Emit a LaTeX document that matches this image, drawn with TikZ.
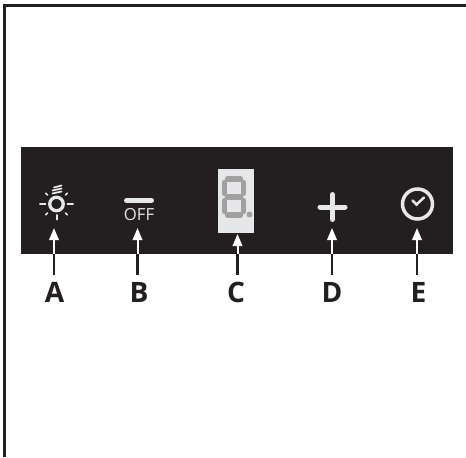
\documentclass[tikz,border=0pt]{standalone}
\usepackage{fontspec}
\setmainfont{Open Sans}
\usetikzlibrary{arrows.meta,positioning,calc}
\definecolor{panel}{RGB}{35,31,32}
\definecolor{glyph}{RGB}{230,231,232}
\definecolor{segment}{RGB}{160,160,160}
\tikzset{
  callout/.style={draw=white, line width=0.04cm, -{Triangle[length=0.24cm,width=0.19cm,fill=white]}},
  stem/.style={draw=panel, line width=0.05cm},
  letter/.style={font=\fontsize{16}{16}\selectfont\bfseries, text=panel, inner sep=0pt, anchor=base},
  icon/.style={draw=glyph, line width=0.05cm, line cap=round},
  seg/.style={draw=segment, line width=0.105cm, line cap=round},
}
\begin{document}
\begin{tikzpicture}
\useasboundingbox (0,0) rectangle (9.32,9.14);
\fill[white] (0,0) rectangle (9.32,9.14);
% frame, left and top only
\draw[panel, line width=0.06cm] (0.09,0) -- (0.09,9.03) -- (9.32,9.03);

\fill[panel] (0.42,4.06) rectangle (9.05,6.2);

% display window
\fill[glyph] (4.35,4.49) rectangle (5.08,5.77);
\draw[seg] (4.55,5.56) -- (4.81,5.56);
\draw[seg] (4.55,5.2) -- (4.81,5.2);
\draw[seg] (4.55,4.84) -- (4.81,4.84);
\draw[seg] (4.49,5.49) -- (4.49,5.27);
\draw[seg] (4.87,5.49) -- (4.87,5.27);
\draw[seg] (4.49,5.13) -- (4.49,4.91);
\draw[seg] (4.87,5.13) -- (4.87,4.91);
\fill[segment] (4.99,4.85) circle (0.06);

% lamp
\coordinate (lamp) at (1.13,5.06);
\draw[icon, line width=0.065cm] (lamp) circle (0.135);
\draw[icon, line width=0.04cm] ($(lamp)+(0:0.22)$) -- ($(lamp)+(0:0.33)$);
\draw[icon, line width=0.04cm] ($(lamp)+(180:0.22)$) -- ($(lamp)+(180:0.33)$);
\draw[icon, line width=0.04cm] ($(lamp)+(270:0.22)$) -- ($(lamp)+(270:0.31)$);
\draw[icon, line width=0.03cm] ($(lamp)+(45:0.25)$) -- ($(lamp)+(45:0.31)$);
\draw[icon, line width=0.03cm] ($(lamp)+(135:0.25)$) -- ($(lamp)+(135:0.31)$);
\draw[icon, line width=0.03cm] ($(lamp)+(225:0.25)$) -- ($(lamp)+(225:0.31)$);
\draw[icon, line width=0.03cm] ($(lamp)+(315:0.25)$) -- ($(lamp)+(315:0.31)$);
\draw[icon, line width=0.035cm] (1.05,5.27) -- (1.23,5.31);
\draw[icon, line width=0.035cm] (1.05,5.33) -- (1.23,5.37);
\draw[icon, line width=0.035cm] (1.08,5.39) -- (1.23,5.43);

% off
\draw[icon, line width=0.1cm] (2.53,5.13) -- (3.03,5.13);
\node[font=\fontsize{9.5}{9.5}\selectfont, text=glyph, inner sep=0pt] (off) at (2.78,4.84) {OFF};

% plus
\draw[icon, line width=0.1cm] (6.4,5.0) -- (6.9,5.0);
\draw[icon, line width=0.1cm] (6.65,4.75) -- (6.65,5.25);

% clock
\coordinate (clock) at (8.35,5.06);
\draw[icon, line width=0.07cm] (clock) circle (0.3);
\draw[icon] (8.25,5.13) -- (8.33,5.05) -- (8.48,5.19);

% labels
\node[letter] (A) at (1.09,3.1) {A};
\node[letter] (B) at (2.78,3.1) {B};
\node[letter] (C) at (4.72,3.1) {C};
\node[letter] (D) at (6.64,3.1) {D};
\node[letter] (E) at (8.37,3.1) {E};

% arrows, black below the panel and white inside it
\coordinate (foota) at (1.08,3.64);
\coordinate (footb) at (2.75,3.64);
\coordinate (footc) at (4.75,3.64);
\coordinate (footd) at (6.64,3.64);
\coordinate (foote) at (8.34,3.64);
\coordinate (edgea) at (1.08,4.06);
\coordinate (edgeb) at (2.75,4.06);
\coordinate (edgec) at (4.75,4.06);
\coordinate (edged) at (6.64,4.06);
\coordinate (edgee) at (8.34,4.06);
\coordinate (tipa) at (1.08,4.58);
\coordinate (tipb) at (2.75,4.58);
\coordinate (tipc) at (4.75,4.46);
\coordinate (tipd) at (6.64,4.58);
\coordinate (tipe) at (8.34,4.58);
\draw[stem] (foota) -- (edgea);
\draw[stem] (footb) -- (edgeb);
\draw[stem] (footc) -- (edgec);
\draw[stem] (footd) -- (edged);
\draw[stem] (foote) -- (edgee);
\draw[callout] (edgea) -- (tipa);
\draw[callout] (edgeb) -- (tipb);
\draw[callout] (edgec) -- (tipc);
\draw[callout] (edged) -- (tipd);
\draw[callout] (edgee) -- (tipe);
\end{tikzpicture}
\end{document}
